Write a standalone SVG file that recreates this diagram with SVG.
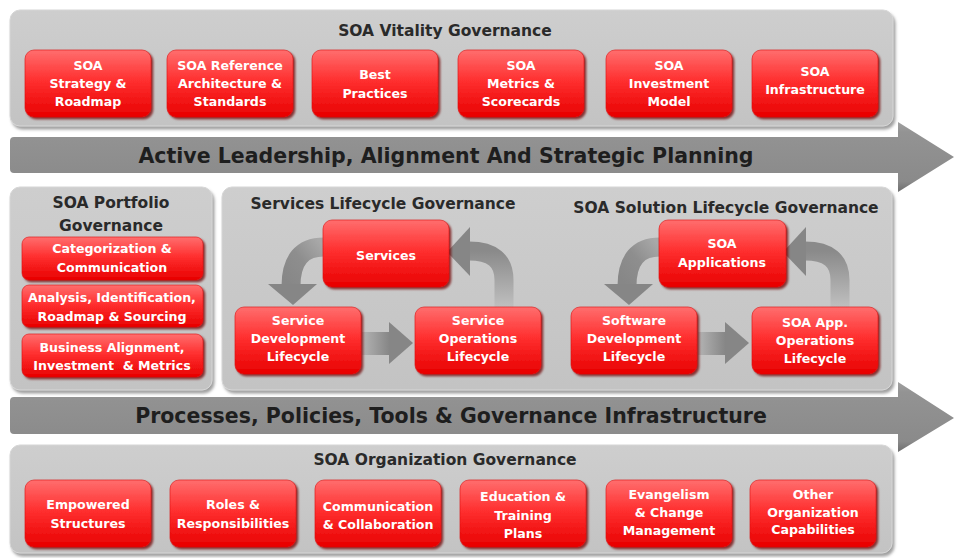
<svg xmlns="http://www.w3.org/2000/svg" width="954" height="558" viewBox="0 0 954 558">
<defs>
  <linearGradient id="redGrad" x1="0" y1="0" x2="0" y2="1">
    <stop offset="0" stop-color="#ff6e6e"/>
    <stop offset="0.45" stop-color="#ff3030"/>
    <stop offset="1" stop-color="#e80000"/>
  </linearGradient>
  <linearGradient id="panelGrad" x1="0" y1="0" x2="0" y2="1">
    <stop offset="0" stop-color="#cecece"/>
    <stop offset="1" stop-color="#c3c3c3"/>
  </linearGradient>
  <linearGradient id="bandGrad" x1="0" y1="0" x2="0" y2="1">
    <stop offset="0" stop-color="#a0a0a0"/>
    <stop offset="0.15" stop-color="#939393"/>
    <stop offset="0.85" stop-color="#8a8a8a"/>
    <stop offset="1" stop-color="#6e6e6e"/>
  </linearGradient>
  <linearGradient id="arrowH" x1="0" y1="0" x2="1" y2="0">
    <stop offset="0" stop-color="#b4b4b4"/>
    <stop offset="1" stop-color="#858585"/>
  </linearGradient>
  <linearGradient id="arrowL" x1="1" y1="0" x2="0" y2="1">
    <stop offset="0" stop-color="#a8a8a8"/>
    <stop offset="0.5" stop-color="#8e8e8e"/>
    <stop offset="1" stop-color="#878787"/>
  </linearGradient>
  <linearGradient id="arrowR" x1="0" y1="1" x2="0" y2="0">
    <stop offset="0" stop-color="#c0c0c0"/>
    <stop offset="1" stop-color="#8a8a8a"/>
  </linearGradient>
  <filter id="redShadow" x="-10%" y="-10%" width="125%" height="130%">
    <feDropShadow dx="2" dy="2" stdDeviation="1.2" flood-color="#700000" flood-opacity="0.75"/>
  </filter>
  <filter id="panelShadow" x="-5%" y="-5%" width="110%" height="115%">
    <feDropShadow dx="2" dy="3" stdDeviation="1.5" flood-color="#777" flood-opacity="0.7"/>
  </filter>
</defs>
<style>
  .panel { fill: url(#panelGrad); stroke: #d6d6d6; stroke-width: 1; filter: url(#panelShadow); }
  .box { fill: url(#redGrad); stroke: #dd1010; stroke-width: 0.6; filter: url(#redShadow); }
  .bt { font-family: "DejaVu Sans", Verdana, sans-serif; font-weight: bold; font-size: 12.6px; fill: #ffffff; text-anchor: middle; }
  .title { font-family: "DejaVu Sans", Verdana, sans-serif; font-weight: bold; font-size: 15.5px; fill: #2a2a2a; text-anchor: middle; }
  .band { fill: url(#bandGrad); }
  .bandtxt { font-family: "DejaVu Sans", Verdana, sans-serif; font-weight: bold; font-size: 20.5px; fill: #1e1e1e; text-anchor: middle; }
  .head { fill: #868686; }
</style>
<rect width="954" height="558" fill="#ffffff"/>

<!-- Top panel -->
<g id="vitality-panel">
  <rect class="panel" x="10" y="10" width="883" height="116" rx="10"/>
  <text class="title" x="445" y="36">SOA Vitality Governance</text>
</g>
<g id="v1"><rect class="box" x="25" y="50" width="126" height="67" rx="9"/>
  <text class="bt" x="88" y="70">SOA</text><text class="bt" x="88" y="88">Strategy &amp;</text><text class="bt" x="88" y="106">Roadmap</text></g>
<g id="v2"><rect class="box" x="167" y="50" width="126" height="67" rx="9"/>
  <text class="bt" x="230" y="70">SOA Reference</text><text class="bt" x="230" y="88">Architecture &amp;</text><text class="bt" x="230" y="106">Standards</text></g>
<g id="v3"><rect class="box" x="312" y="50" width="126" height="67" rx="9"/>
  <text class="bt" x="375" y="79">Best</text><text class="bt" x="375" y="98">Practices</text></g>
<g id="v4"><rect class="box" x="458" y="50" width="126" height="67" rx="9"/>
  <text class="bt" x="521" y="70">SOA</text><text class="bt" x="521" y="88">Metrics &amp;</text><text class="bt" x="521" y="106">Scorecards</text></g>
<g id="v5"><rect class="box" x="606" y="50" width="126" height="67" rx="9"/>
  <text class="bt" x="669" y="70">SOA</text><text class="bt" x="669" y="88">Investment</text><text class="bt" x="669" y="106">Model</text></g>
<g id="v6"><rect class="box" x="752" y="50" width="126" height="67" rx="9"/>
  <text class="bt" x="815" y="76">SOA</text><text class="bt" x="815" y="94">Infrastructure</text></g>

<!-- Band 1 -->
<g id="band-leadership">
  <path class="band" d="M14,137 L898,137 L898,122 L954,157 L898,192 L898,173 L14,173 Q10,173 10,169 L10,141 Q10,137 14,137 Z"/>
  <text class="bandtxt" x="446" y="163">Active Leadership, Alignment And Strategic Planning</text>
</g>

<!-- Portfolio panel -->
<g id="portfolio-panel">
  <rect class="panel" x="10" y="187" width="202" height="203" rx="10"/>
  <text class="title" x="111" y="208">SOA Portfolio</text>
  <text class="title" x="111" y="231">Governance</text>
</g>
<g id="p1"><rect class="box" x="22" y="237" width="181" height="43" rx="7"/>
  <text class="bt" x="112" y="253">Categorization &amp;</text><text class="bt" x="112" y="272">Communication</text></g>
<g id="p2"><rect class="box" x="22" y="285" width="181" height="42" rx="7"/>
  <text class="bt" x="112" y="302">Analysis, Identification,</text><text class="bt" x="112" y="321">Roadmap &amp; Sourcing</text></g>
<g id="p3"><rect class="box" x="22" y="334" width="181" height="43" rx="7"/>
  <text class="bt" x="112" y="352">Business Alignment,</text><text class="bt" x="112" y="370" xml:space="preserve">Investment  &amp; Metrics</text></g>

<!-- Lifecycle panel -->
<g id="lifecycle-panel">
  <rect class="panel" x="222" y="187" width="670" height="203" rx="10"/>
  <text class="title" x="383" y="209">Services Lifecycle Governance</text>
  <text class="title" x="726" y="213">SOA Solution Lifecycle Governance</text>
</g>

<!-- Connectors -->
<g id="connectors">
  <!-- Services lifecycle -->
  <path d="M324,247 Q291,247 291,286" fill="none" stroke="url(#arrowL)" stroke-width="19"/>
  <polygon class="head" points="268,284 317,284 293,305"/>
  <path d="M504,308 L504,280 Q504,251 469,251" fill="none" stroke="url(#arrowR)" stroke-width="19"/>
  <polygon class="head" points="470,227 470,276 447,252"/>
  <rect x="362" y="332" width="28" height="23" fill="url(#arrowH)"/>
  <polygon class="head" points="389,322 389,364 413,343"/>
  <!-- Solution lifecycle -->
  <path d="M660,247 Q627,247 627,286" fill="none" stroke="url(#arrowL)" stroke-width="19"/>
  <polygon class="head" points="604,284 653,284 629,305"/>
  <path d="M840,308 L840,280 Q840,251 805,251" fill="none" stroke="url(#arrowR)" stroke-width="19"/>
  <polygon class="head" points="806,227 806,276 783,252"/>
  <rect x="698" y="332" width="28" height="23" fill="url(#arrowH)"/>
  <polygon class="head" points="725,322 725,364 749,343"/>
</g>

<g id="s-services"><rect class="box" x="323" y="220" width="126" height="67" rx="9"/>
  <text class="bt" x="386" y="260">Services</text></g>
<g id="s-dev"><rect class="box" x="235" y="307" width="126" height="67" rx="9"/>
  <text class="bt" x="298" y="325">Service</text><text class="bt" x="298" y="343">Development</text><text class="bt" x="298" y="361">Lifecycle</text></g>
<g id="s-ops"><rect class="box" x="415" y="307" width="126" height="67" rx="9"/>
  <text class="bt" x="478" y="325">Service</text><text class="bt" x="478" y="343">Operations</text><text class="bt" x="478" y="361">Lifecycle</text></g>
<g id="a-apps"><rect class="box" x="659" y="220" width="127" height="67" rx="9"/>
  <text class="bt" x="722" y="248">SOA</text><text class="bt" x="722" y="267">Applications</text></g>
<g id="a-dev"><rect class="box" x="571" y="307" width="126" height="67" rx="9"/>
  <text class="bt" x="634" y="325">Software</text><text class="bt" x="634" y="343">Development</text><text class="bt" x="634" y="361">Lifecycle</text></g>
<g id="a-ops"><rect class="box" x="752" y="307" width="126" height="67" rx="9"/>
  <text class="bt" x="815" y="327">SOA App.</text><text class="bt" x="815" y="345">Operations</text><text class="bt" x="815" y="363">Lifecycle</text></g>

<!-- Band 2 -->
<g id="band-processes">
  <path class="band" d="M14,397 L898,397 L898,382 L954,418 L898,452 L898,434 L14,434 Q10,434 10,430 L10,401 Q10,397 14,397 Z"/>
  <text class="bandtxt" x="451" y="423">Processes, Policies, Tools &amp; Governance Infrastructure</text>
</g>

<!-- Organization panel -->
<g id="organization-panel">
  <rect class="panel" x="10" y="445" width="882" height="108" rx="10"/>
  <text class="title" x="445" y="465">SOA Organization Governance</text>
</g>
<g id="o1"><rect class="box" x="25" y="480" width="126" height="67" rx="9"/>
  <text class="bt" x="88" y="509">Empowered</text><text class="bt" x="88" y="528">Structures</text></g>
<g id="o2"><rect class="box" x="170" y="480" width="126" height="67" rx="9"/>
  <text class="bt" x="233" y="509">Roles &amp;</text><text class="bt" x="233" y="528">Responsibilities</text></g>
<g id="o3"><rect class="box" x="315" y="480" width="126" height="67" rx="9"/>
  <text class="bt" x="378" y="511">Communication</text><text class="bt" x="378" y="529">&amp; Collaboration</text></g>
<g id="o4"><rect class="box" x="460" y="480" width="126" height="67" rx="9"/>
  <text class="bt" x="523" y="501">Education &amp;</text><text class="bt" x="523" y="520">Training</text><text class="bt" x="523" y="538">Plans</text></g>
<g id="o5"><rect class="box" x="606" y="480" width="126" height="67" rx="9"/>
  <text class="bt" x="669" y="499">Evangelism</text><text class="bt" x="669" y="517">&amp; Change</text><text class="bt" x="669" y="535">Management</text></g>
<g id="o6"><rect class="box" x="750" y="480" width="126" height="67" rx="9"/>
  <text class="bt" x="813" y="499">Other</text><text class="bt" x="813" y="517">Organization</text><text class="bt" x="813" y="534">Capabilities</text></g>
</svg>
